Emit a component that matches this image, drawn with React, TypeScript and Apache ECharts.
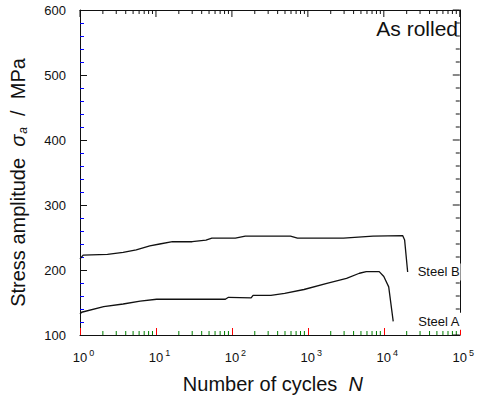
import React, { useEffect, useRef } from "react";
import * as echarts from "echarts";

// Steel B (cycles, stress amplitude MPa)
const steelBN = [1, 1.1, 2.3, 3.7, 5.5, 8.3, 11.2, 16.5, 30, 45.5, 54.5, 111, 150, 590, 730, 2950, 7200, 17700, 18800, 20600];
const steelBS = [217, 223, 224, 227, 231, 237, 240, 243.5, 243.5, 246, 249, 249, 252, 252, 249, 249, 252, 253, 246, 197];

// Steel A
const steelAN = [1, 1.05, 2.05, 3.7, 6.2, 10.2, 82, 90, 179, 190, 326, 495, 890, 1780, 3230, 4770, 5880, 8700, 10000, 11600, 13300];
const steelAS = [132, 135, 143.5, 147.7, 152, 155, 155, 158, 157, 161, 161, 164, 170, 179.5, 187, 195, 197.5, 197.5, 190, 174, 121];

const seriesNames = ["Steel B", "Steel A"];
const yMin = 100;
const yMax = 600;
const yStep = 100;
const yMinorStep = 20;
const xMin = 1;
const xMax = 100000;
const decadeStarts = [1, 10, 100, 1000, 10000, 100000];
const minorMultipliers = [2, 3, 4, 5, 6, 7, 8, 9];

export default function App() {
  const ref = useRef<HTMLDivElement>(null);

  useEffect(() => {
    if (!ref.current) return;
    const chart = echarts.init(ref.current, null, { renderer: "svg" });
    const font = "'Liberation Sans', Arial, Helvetica, sans-serif";
    const ink = "#111";
    const pair = (ns: number[], ss: number[]) => ns.map((n, i) => [n, ss[i]]);

    const tickRows: number[][] = [];
    decadeStarts.forEach((d) => {
      tickRows.push([d, yMin, 1]);
      if (d < xMax) minorMultipliers.forEach((m) => tickRows.push([d * m, yMin, 0]));
    });
    for (let v = yMin; v <= yMax; v += yMinorStep) {
      tickRows.push([xMax, v, v % yStep === 0 ? 3 : 2]);
    }

    const xLabel = {
      show: true,
      margin: 13,
      color: ink,
      fontFamily: font,
      formatter: (v: number) => {
        const e = Math.round(Math.log10(v));
        return `{e|${e}}{b|10}{s|${e}}`;
      },
      rich: {
        b: { fontSize: 13, fontFamily: font, color: ink, lineHeight: 16, verticalAlign: "bottom" },
        s: { fontSize: 9, fontFamily: font, color: ink, lineHeight: 16, verticalAlign: "top", padding: [0, 0, 0, 2] },
        e: { fontSize: 9, fontFamily: font, color: "transparent", lineHeight: 16, padding: [0, 2, 0, 0] },
      },
    };

    const lineSeries = (name: string, ns: number[], ss: number[], dist: number) => ({
      name,
      type: "line",
      data: pair(ns, ss),
      symbol: "none",
      showSymbol: false,
      lineStyle: { color: ink, width: 1.3 },
      endLabel: {
        show: true,
        formatter: name,
        distance: dist,
        fontSize: 13,
        fontFamily: font,
        color: ink,
        backgroundColor: "#fff",
        padding: [2, 1],
      },
    });

    chart.setOption({
      animation: false,
      title: {
        text: "As rolled",
        right: 19,
        top: 18,
        padding: 0,
        textStyle: { fontSize: 21, fontWeight: "normal", fontFamily: font, color: ink },
      },
      grid: { left: 79, right: 12, top: 10, bottom: 66 },
      xAxis: [
        {
          type: "log",
          min: xMin,
          max: xMax,
          name: "{n|Number of cycles  }{i|N}",
          nameLocation: "middle",
          nameGap: 37,
          nameTextStyle: {
            padding: [0, 0, 0, 6],
            rich: {
              n: { fontSize: 20, fontFamily: font, color: ink, lineHeight: 24 },
              i: { fontSize: 20, fontFamily: font, color: ink, fontStyle: "italic", lineHeight: 24 },
            },
          },
          axisLine: { show: true, onZero: false, lineStyle: { color: ink } },
          axisTick: { show: true, inside: true, length: 7, lineStyle: { color: "red", width: 1 } },
          splitLine: { show: false },
          axisLabel: xLabel,
        },
        {
          type: "log",
          min: xMin,
          max: xMax,
          position: "top",
          axisLine: { show: true, onZero: false, lineStyle: { color: ink } },
          axisTick: { show: false },
          axisLabel: { show: false },
          splitLine: { show: false },
        },
      ],
      yAxis: [
        {
          type: "value",
          min: yMin,
          max: yMax,
          interval: yStep,
          name: "{n|Stress amplitude  }{s|σ}{sub|a}{n|  /  MPa}",
          nameLocation: "middle",
          nameGap: 49,
          nameTextStyle: {
            padding: [0, 20, 0, 0],
            rich: {
              n: { fontSize: 20, fontFamily: font, color: ink, lineHeight: 26, verticalAlign: "middle" },
              s: { fontSize: 20, fontFamily: font, color: ink, fontStyle: "italic", lineHeight: 26, verticalAlign: "middle" },
              sub: { fontSize: 12, fontFamily: font, color: ink, fontStyle: "italic", lineHeight: 26, verticalAlign: "bottom", padding: [0, 0, 2, 1] },
            },
          },
          axisLine: { show: true, onZero: false, lineStyle: { color: ink } },
          axisTick: { show: true, inside: true, length: 7, lineStyle: { color: ink, width: 1 } },
          minorTick: { show: true, splitNumber: 5, length: 4, lineStyle: { color: "blue", width: 1 } },
          splitLine: { show: false },
          axisLabel: { show: true, margin: 14, fontSize: 13, fontFamily: font, color: ink, padding: [13, 0, 0, 0] },
        },
        {
          type: "value",
          min: yMin,
          max: yMax,
          interval: yStep,
          position: "right",
          axisLine: { show: true, onZero: false, lineStyle: { color: ink } },
          axisTick: { show: false },
          axisLabel: { show: false },
          splitLine: { show: false },
        },
      ],
      series: [
        lineSeries(seriesNames[0], steelBN, steelBS, 9),
        lineSeries(seriesNames[1], steelAN, steelAS, 24),
        {
          type: "custom",
          data: tickRows,
          encode: { x: 0, y: 1 },
          renderItem: (params: any, api: any) => {
            const kind = api.value(2);
            if (kind === 0 || kind === 1) {
              const n = api.value(0);
              const pb = api.coord([n, yMin]);
              const pt = api.coord([n, yMax]);
              const len = kind === 1 ? 7 : 4;
              return {
                type: "group",
                children: [
                  ...(kind === 0 ? [{ type: "rect", shape: { x: pb[0] - 0.5, y: pb[1] - len, width: 1, height: len }, style: { fill: "green" } }] : []),
                  { type: "rect", shape: { x: pt[0] - 0.5, y: pt[1], width: 1, height: len }, style: { fill: ink } },
                ],
              };
            }
            const p = api.coord([xMax, api.value(1)]);
            const len = kind === 3 ? 7 : 4;
            return { type: "rect", shape: { x: p[0] - len, y: p[1] - 0.5, width: len, height: 1 }, style: { fill: ink } };
          },
        },
      ],
    });

    return () => chart.dispose();
  }, []);

  return (
    <div
      ref={ref}
      style={{ position: "fixed", left: 0, top: 0, width: 477, height: 401, background: "#fff" }}
    />
  );
}
